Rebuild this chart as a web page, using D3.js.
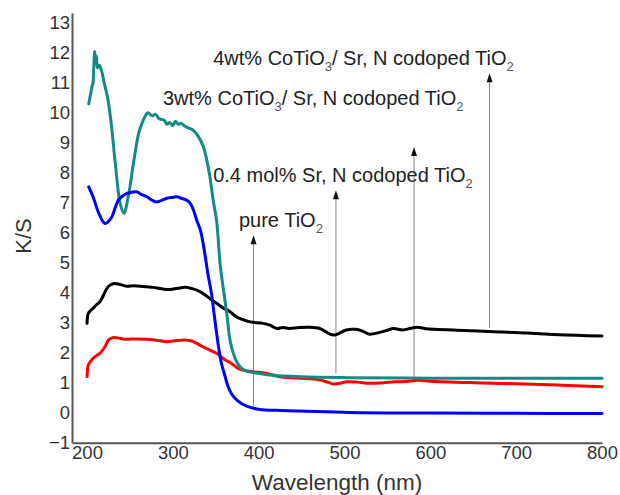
<!DOCTYPE html>
<html>
<head>
<meta charset="utf-8">
<script src="https://cdn.jsdelivr.net/npm/d3@7"></script>
<style>
  html, body { margin: 0; padding: 0; background: #fff; }
  svg { display: block; font-family: "Liberation Sans", Arial, sans-serif; }
</style>
</head>
<body>
<svg id="chart" width="620" height="495"></svg>
<script>
// Diffuse reflectance spectra (Kubelka-Munk, K/S) versus wavelength

// pure TiO2 (blue)
const pureWl = [202, 207, 213, 218, 221, 225, 229, 233, 236.5, 241, 246, 252, 258, 262, 266, 270, 275, 281, 287, 293, 299, 304.5, 310, 316, 320, 324, 328, 332, 336, 341, 345, 348, 351, 354, 357, 360, 364, 368, 372.5, 379, 386, 395, 401.5, 420, 448, 506, 600, 700, 800];
const pureKS = [7.53, 7.2, 6.7, 6.4, 6.31, 6.38, 6.53, 6.85, 7.09, 7.22, 7.31, 7.35, 7.37, 7.3, 7.25, 7.2, 7.1, 7.03, 7.08, 7.15, 7.18, 7.2, 7.15, 7.09, 6.99, 6.76, 6.4, 6.1, 5.53, 4.6, 3.98, 3.3, 2.65, 2.05, 1.6, 1.3, 0.9, 0.65, 0.48, 0.32, 0.22, 0.14, 0.11, 0.08, 0.06, 0.01, -0.01, -0.02, -0.03];

// 0.4 mol% Sr, N codoped TiO2 (red)
const srnWl = [200, 201.5, 204, 207, 211, 215, 218, 221, 225, 231, 238, 246, 258, 269.5, 280, 293, 305, 316, 322, 328, 335, 343, 351, 361, 368, 376, 385, 396, 405, 415, 425, 438, 452, 465, 471.5, 480, 487, 494, 502.6, 515, 529, 545, 559, 572, 585, 600, 651, 720, 760, 800];
const srnKS = [1.2, 1.59, 1.7, 1.81, 1.9, 1.98, 2.08, 2.2, 2.42, 2.51, 2.48, 2.45, 2.46, 2.45, 2.42, 2.37, 2.41, 2.42, 2.39, 2.31, 2.2, 2.09, 1.98, 1.76, 1.65, 1.48, 1.4, 1.36, 1.33, 1.27, 1.2, 1.17, 1.15, 1.12, 1.09, 1.02, 0.96, 0.98, 1.03, 1.02, 0.98, 1.0, 1.03, 1.04, 1.08, 1.05, 1.0, 0.95, 0.91, 0.87];

// 3wt% CoTiO3 / Sr, N codoped TiO2 (teal)
const co3Wl = [202, 204, 206, 207, 208, 209, 210, 211, 212, 214, 217, 220, 224, 228, 233, 238.5, 243, 248, 254, 260, 264, 268, 271, 276, 280, 284, 290, 293, 296, 300, 303, 306, 310, 314, 318, 322, 326, 330, 335.6, 339, 343, 347, 351, 355, 359, 362.8, 366.6, 370.5, 374.4, 380, 388, 403.5, 413, 450, 506, 600, 700, 800];
const co3KS = [10.3, 10.6, 10.9, 11.0, 11.6, 12.05, 11.7, 11.9, 11.5, 11.6, 11.4, 11.0, 10.5, 9.7, 8.3, 7.0, 6.65, 7.2, 8.3, 9.3, 9.65, 9.9, 10.0, 9.9, 9.95, 9.8, 9.75, 9.62, 9.68, 9.58, 9.72, 9.62, 9.65, 9.55, 9.5, 9.45, 9.35, 9.2, 8.87, 8.5, 7.9, 7.09, 6.4, 4.98, 4.09, 3.31, 2.42, 1.98, 1.7, 1.48, 1.37, 1.3, 1.26, 1.2, 1.17, 1.15, 1.15, 1.15];

// 4wt% CoTiO3 / Sr, N codoped TiO2 (black)
const co4Wl = [200, 201.5, 204, 207, 211, 215, 218, 221, 224, 227, 232, 238, 246, 254, 262, 270, 277, 285, 292, 297, 304, 310, 316, 322, 328, 335, 343, 351, 359, 365, 374, 380, 390, 405, 413, 421, 428, 436, 447, 460, 471, 477, 483, 488, 494, 502, 513, 521, 529, 540, 550, 557, 568, 578, 585, 595, 605, 640, 674, 710, 743, 770, 800];
const co4KS = [2.98, 3.31, 3.4, 3.48, 3.6, 3.7, 3.85, 4.03, 4.18, 4.26, 4.31, 4.28, 4.22, 4.23, 4.22, 4.2, 4.18, 4.14, 4.11, 4.11, 4.14, 4.17, 4.18, 4.14, 4.09, 3.98, 3.81, 3.65, 3.48, 3.4, 3.2, 3.12, 3.03, 2.98, 2.92, 2.81, 2.84, 2.81, 2.84, 2.85, 2.81, 2.72, 2.62, 2.59, 2.65, 2.76, 2.78, 2.72, 2.62, 2.67, 2.75, 2.81, 2.76, 2.82, 2.85, 2.8, 2.78, 2.74, 2.7, 2.66, 2.61, 2.58, 2.56];

const seriesColors = ["#0000ff", "#ff0000", "#138a84", "#000000"];

// axis ticks
const xTicks = [200, 300, 400, 500, 600, 700, 800];
const yTicks = [-1, 0, 1, 2, 3, 4, 5, 6, 7, 8, 9, 10, 11, 12, 13];

// annotation labels: text, subscript pieces, anchor wavelength / K/S
const labelParts = [
  [["pure TiO", false], ["2", true]],
  [["0.4 mol% Sr, N codoped TiO", false], ["2", true]],
  [["3wt% CoTiO", false], ["3", true], ["/ Sr, N codoped TiO", false], ["2", true]],
  [["4wt% CoTiO", false], ["3", true], ["/ Sr, N codoped TiO", false], ["2", true]]
];
const labelWl = [377, 347, 288.5, 347];
const labelKS = [6.19, 7.69, 10.26, 11.59];

// pointer arrows: wavelength, K/S at the foot and at the head
const arrowWl = [394, 490, 581, 669];
const arrowFoot = [0.19, 1.32, 1.19, 2.82];
const arrowHead = [5.92, 7.42, 8.86, 11.32];

const svg = d3.select("#chart");
const x = d3.scaleLinear().domain([182.5, 800]).range([72, 602]);
const y = d3.scaleLinear().domain([-1, 13.33]).range([442.7, 13]);

// axes
const xAxis = d3.axisBottom(x).tickValues(xTicks).tickSize(0).tickSizeOuter(0).tickPadding(3);
const yAxis = d3.axisLeft(y).tickValues(yTicks).tickSize(0).tickSizeOuter(0).tickPadding(2);

const gx = svg.append("g").attr("transform", `translate(0,${y(-1)})`).call(xAxis);
const gy = svg.append("g").attr("transform", `translate(${x(182.5)},0)`).call(yAxis);
[gx, gy].forEach(g => {
  g.select(".domain").attr("stroke", "#555").attr("stroke-width", 2);
  g.selectAll("text").attr("fill", "#333").style("font-size", "18.5px")
    .style("font-family", "'Liberation Sans', Arial, sans-serif");
});

// axis titles
svg.append("text")
  .attr("x", 337).attr("y", 490)
  .attr("text-anchor", "middle")
  .attr("fill", "#333").style("font-size", "22.5px")
  .text("Wavelength (nm)");
svg.append("text")
  .attr("transform", "translate(31,236) rotate(-90)")
  .attr("text-anchor", "middle")
  .attr("fill", "#333").style("font-size", "22px")
  .text("K/S");

// pointer arrows
const arrows = svg.append("g");
arrowWl.forEach((w, i) => {
  const ax = x(w), y0 = y(arrowFoot[i]), y1 = y(arrowHead[i]);
  arrows.append("line")
    .attr("x1", ax).attr("x2", ax).attr("y1", y0).attr("y2", y1 + 6)
    .attr("stroke", "#888").attr("stroke-width", 1);
  arrows.append("path")
    .attr("d", `M${ax},${y1} L${ax - 3},${y1 + 9} L${ax + 3},${y1 + 9} Z`)
    .attr("fill", "#111");
});

// spectra
const line = d3.line().x(d => x(d[0])).y(d => y(d[1])).curve(d3.curveCatmullRom.alpha(0.5));
const series = [
  d3.zip(co4Wl, co4KS),
  d3.zip(srnWl, srnKS),
  d3.zip(co3Wl, co3KS),
  d3.zip(pureWl, pureKS)
];
const seriesCol = [seriesColors[3], seriesColors[1], seriesColors[2], seriesColors[0]];
svg.append("g").selectAll("path")
  .data(series)
  .join("path")
  .attr("d", line)
  .attr("fill", "none")
  .attr("stroke", (d, i) => seriesCol[i])
  .attr("stroke-width", 3)
  .attr("stroke-linejoin", "round")
  .attr("stroke-linecap", "round");

// annotation labels
const labels = svg.append("g").attr("fill", "#222").style("font-size", "20px");
labelParts.forEach((parts, i) => {
  const t = labels.append("text").attr("x", x(labelWl[i])).attr("y", y(labelKS[i]));
  parts.forEach(([s, sub]) => {
    const ts = t.append("tspan").text(s);
    if (sub) ts.attr("dy", "6").style("font-size", "13px").attr("fill", "#555");
    else ts.attr("dy", t.selectAll("tspan").size() > 1 ? "-6" : "0");
  });
});
</script>
</body>
</html>
